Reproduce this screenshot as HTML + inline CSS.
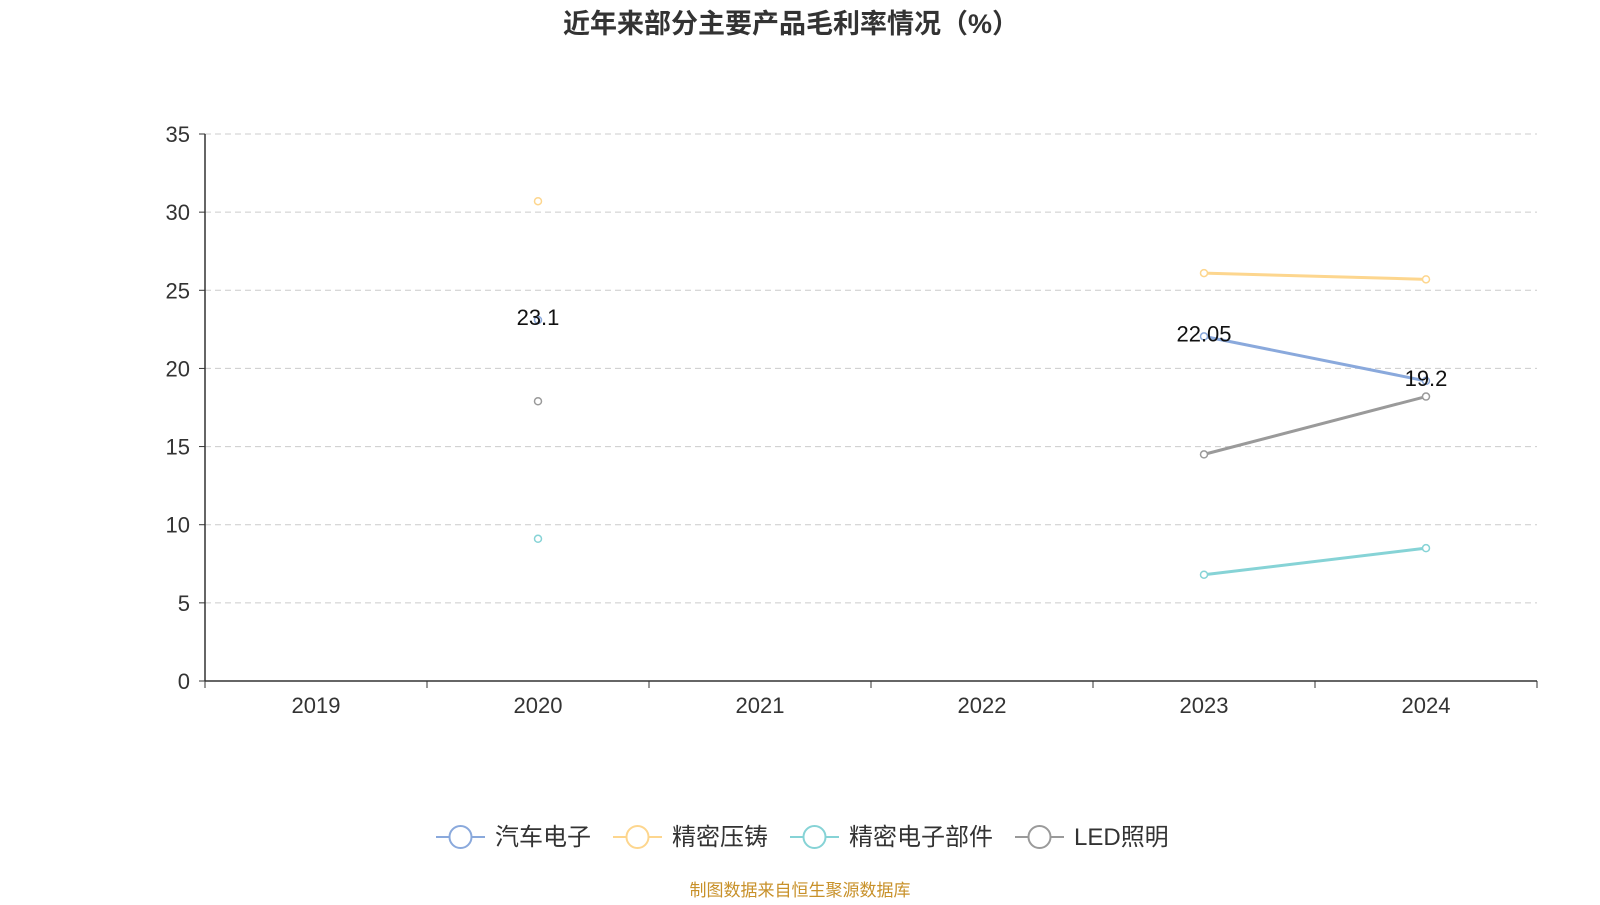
<!DOCTYPE html>
<html><head><meta charset="utf-8"><style>
body{margin:0;background:#fff;width:1600px;height:900px;overflow:hidden;font-family:"Liberation Sans","Noto Sans CJK SC",sans-serif}
</style></head><body>
<svg id="chart" width="1600" height="900" xmlns="http://www.w3.org/2000/svg" font-family="Liberation Sans, Noto Sans CJK SC, sans-serif">
<text x="791" y="33" text-anchor="middle" font-size="27" font-weight="bold" fill="#333">近年来部分主要产品毛利率情况（%）</text>
<g id="grid"></g><g id="axes"></g><g id="series"></g><g id="legend"></g>
<text x="800" y="896" text-anchor="middle" font-size="17" fill="#c8912a">制图数据来自恒生聚源数据库</text>
</svg>
<script>
const categories=["2019","2020","2021","2022","2023","2024"];
const seriesNames=["汽车电子","精密压铸","精密电子部件","LED照明"];
const autoElec=[null,23.1,null,null,22.05,19.2];
const dieCast=[null,30.7,null,null,26.1,25.7];
const precisionParts=[null,9.1,null,null,6.8,8.5];
const ledLight=[null,17.9,null,null,14.5,18.2];
const yTicks=[0,5,10,15,20,25,30,35];
const colors=["#8aa9dc","#fdd68e","#86d3d6","#9a9a9a"];
const showLabels=[true,false,false,false];
const NS="http://www.w3.org/2000/svg";
const L=205,R=1537,T=134,B=681,yMax=35;
const bw=(R-L)/categories.length;
const x=i=>L+bw*(i+0.5);
const y=v=>B-(v/yMax)*(B-T);
function mk(tag,attrs,parent){const e=document.createElementNS(NS,tag);for(const k in attrs)e.setAttribute(k,attrs[k]);parent.appendChild(e);return e;}
const grid=document.getElementById('grid'),axes=document.getElementById('axes'),ser=document.getElementById('series'),leg=document.getElementById('legend');
yTicks.forEach(t=>{
  if(t>0){const g=mk('line',{x1:L,x2:R,y1:y(t),y2:y(t),stroke:'#ccc','stroke-dasharray':'6,4'},grid);
  
  }
  const tx=mk('text',{x:L-15,y:y(t)+8,'text-anchor':'end','font-size':22,fill:'#333'},axes);tx.textContent=t;
  
  
  mk('line',{x1:L-6,x2:L,y1:y(t),y2:y(t),stroke:'#333'},axes);
});
const ya=mk('line',{x1:L,x2:L,y1:T,y2:B,stroke:'#333','stroke-width':1.5},axes);


const xa=mk('line',{x1:L,x2:R,y1:B,y2:B,stroke:'#333','stroke-width':1.5},axes);


for(let i=0;i<=categories.length;i++)mk('line',{x1:L+bw*i,x2:L+bw*i,y1:B,y2:B+7,stroke:'#333'},axes);
categories.forEach((c,i)=>{const t=mk('text',{x:x(i),y:B+32,'text-anchor':'middle','font-size':22,fill:'#333'},axes);t.textContent=c;
  
  });
[autoElec,dieCast,precisionParts,ledLight].forEach((data,s)=>{
  let seg=[];
  const flush=()=>{if(seg.length>1){const p=mk('polyline',{points:seg.join(' '),fill:'none',stroke:colors[s],'stroke-width':3},ser);
    
    }seg=[];};
  data.forEach((v,i)=>{if(v==null){flush();return;}seg.push(x(i)+','+y(v));});flush();
  data.forEach((v,i)=>{if(v==null)return;
    const c=mk('circle',{cx:x(i),cy:y(v),r:3.5,fill:'#fff',stroke:colors[s],'stroke-width':1.5},ser);
    
    
    if(showLabels[s]){const t=mk('text',{x:x(i),y:y(v)+5,'text-anchor':'middle','font-size':22,fill:'#111'},ser);t.textContent=v;
      
      }
  });
});
const lx=[436,613,790,1015];
seriesNames.forEach((n,s)=>{
  const g=mk('g',{},leg);
  
  
  mk('line',{x1:lx[s],x2:lx[s]+49,y1:837,y2:837,stroke:colors[s],'stroke-width':2},g);
  mk('circle',{cx:lx[s]+24.5,cy:837,r:11,fill:'#fff',stroke:colors[s],'stroke-width':2},g);
  const t=mk('text',{x:lx[s]+59,y:845,'font-size':24,fill:'#333'},g);t.textContent=n;
});
</script>
</body></html>
